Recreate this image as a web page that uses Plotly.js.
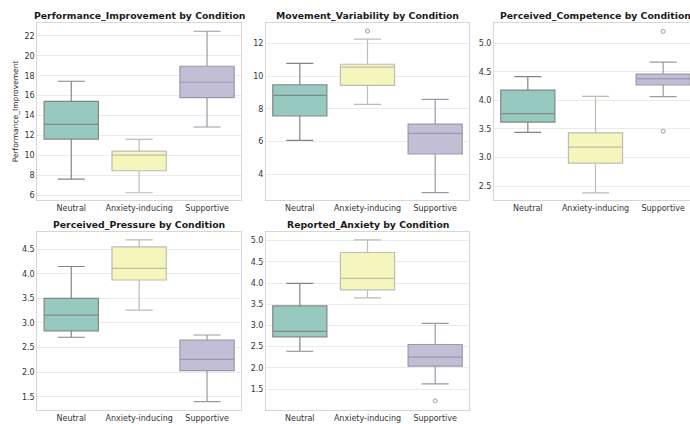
<!DOCTYPE html>
<html>
<head>
<meta charset="utf-8">
<script src="https://cdn.plot.ly/plotly-3.0.1.min.js"></script>
<style>
html,body{margin:0;padding:0;overflow:hidden;background:#fff;width:690px;height:424px;}
#chart{width:720px;height:424px;}
</style>
</head>
<body>
<div id="chart"></div>
<script>
const categories = ['Neutral', 'Anxiety-inducing', 'Supportive'];
const metricNames = ['Performance_Improvement', 'Movement_Variability', 'Perceived_Competence', 'Perceived_Pressure', 'Reported_Anxiety'];

// Performance_Improvement
const perfLow = [7.6, 6.23, 12.84];
const perfQ1 = [11.63, 8.44, 15.79];
const perfMed = [13.11, 10.02, 17.34];
const perfQ3 = [15.42, 10.42, 18.95];
const perfHigh = [17.44, 11.6, 22.47];
const perfOutX = [];
const perfOutY = [];

// Movement_Variability
const moveLow = [6.07, 8.27, 2.88];
const moveQ1 = [7.56, 9.43, 5.24];
const moveMed = [8.82, 10.55, 6.5];
const moveQ3 = [9.47, 10.72, 7.07];
const moveHigh = [10.78, 12.26, 8.58];
const moveOutX = ['Anxiety-inducing'];
const moveOutY = [12.75];

// Perceived_Competence
const compLow = [3.44, 2.38, 4.065];
const compQ1 = [3.62, 2.9, 4.27];
const compMed = [3.77, 3.18, 4.38];
const compQ3 = [4.18, 3.43, 4.46];
const compHigh = [4.416, 4.07, 4.67];
const compOutX = ['Supportive', 'Supportive'];
const compOutY = [5.21, 3.46];

// Perceived_Pressure
const presLow = [2.71, 3.26, 1.4];
const presQ1 = [2.84, 3.875, 2.03];
const presMed = [3.16, 4.11, 2.26];
const presQ3 = [3.5, 4.55, 2.65];
const presHigh = [4.15, 4.69, 2.755];
const presOutX = [];
const presOutY = [];

// Reported_Anxiety
const anxLow = [2.39, 3.65, 1.62];
const anxQ1 = [2.73, 3.84, 2.04];
const anxMed = [2.86, 4.11, 2.25];
const anxQ3 = [3.46, 4.72, 2.55];
const anxHigh = [3.99, 5.016, 3.05];
const anxOutX = ['Supportive'];
const anxOutY = [1.22];

const yTickStep = [2, 2, 0.5, 0.5, 0.5];
const yTickFmt = ['d', 'd', '.1f', '.1f', '.1f'];
const yRanges = [[5.5, 23.3], [2.43, 13.24], [2.255, 5.356], [1.229, 4.858], [1.005, 5.21]];

const fillColors = ['#96cac1', '#f5f5bc', '#c1bed6'];
const lineColors = ['#858585', '#bdbdb2', '#9b99a8'];

const W = 720, H = 424;
const xDomPx = [[37.3, 241], [266, 469], [494, 697], [37.3, 241], [266, 469]];
const yDomPx = [[23, 200], [23, 200], [23, 200], [231.7, 410], [231.7, 410]];

const stats = [
  [perfLow, perfQ1, perfMed, perfQ3, perfHigh, perfOutX, perfOutY],
  [moveLow, moveQ1, moveMed, moveQ3, moveHigh, moveOutX, moveOutY],
  [compLow, compQ1, compMed, compQ3, compHigh, compOutX, compOutY],
  [presLow, presQ1, presMed, presQ3, presHigh, presOutX, presOutY],
  [anxLow, anxQ1, anxMed, anxQ3, anxHigh, anxOutX, anxOutY]
];

const traces = [];
const layout = {
  width: W, height: H,
  margin: {l: 0, r: 0, t: 0, b: 0},
  paper_bgcolor: '#ffffff',
  plot_bgcolor: '#ffffff',
  showlegend: false,
  boxmode: 'overlay',
  font: {family: 'DejaVu Sans', color: '#262626', size: 8},
  annotations: []
};

stats.forEach((s, i) => {
  const xa = i === 0 ? 'x' : 'x' + (i + 1);
  const ya = i === 0 ? 'y' : 'y' + (i + 1);
  for (let c = 0; c < 3; c++) {
    traces.push({
      type: 'box',
      x: [categories[c]],
      lowerfence: [s[0][c]],
      q1: [s[1][c]],
      median: [s[2][c]],
      q3: [s[3][c]],
      upperfence: [s[4][c]],
      width: 0.8,
      whiskerwidth: 0.5,
      boxpoints: false,
      fillcolor: fillColors[c],
      line: {color: lineColors[c], width: 1.2},
      xaxis: xa, yaxis: ya,
      hoverinfo: 'skip'
    });
  }
  if (s[5].length) {
    traces.push({
      type: 'scatter', mode: 'markers',
      x: s[5], y: s[6],
      marker: {symbol: 'circle-open', size: 4, color: '#9a9a9a', line: {width: 1}},
      xaxis: xa, yaxis: ya, hoverinfo: 'skip'
    });
  }
  const xk = i === 0 ? 'xaxis' : 'xaxis' + (i + 1);
  const yk = i === 0 ? 'yaxis' : 'yaxis' + (i + 1);
  layout[xk] = {
    domain: [xDomPx[i][0] / W, xDomPx[i][1] / W],
    anchor: ya,
    type: 'category',
    categoryorder: 'array', categoryarray: categories,
    range: [-0.5, 2.5],
    showgrid: false,
    showline: true, linecolor: '#d6d6d6', linewidth: 1, mirror: true,
    ticks: '', tickfont: {size: 8, color: '#333333'},
    zeroline: false, fixedrange: true
  };
  layout[yk] = {
    domain: [1 - yDomPx[i][1] / H, 1 - yDomPx[i][0] / H],
    anchor: xa,
    range: yRanges[i],
    dtick: yTickStep[i], tick0: 0,
    tickformat: yTickFmt[i],
    showgrid: true, gridcolor: '#ebebeb', gridwidth: 1,
    showline: true, linecolor: '#d6d6d6', linewidth: 1, mirror: true,
    ticks: '', tickfont: {size: 8, color: '#333333'},
    zeroline: false, fixedrange: true
  };
  if (i === 0) {
    layout[yk].title = {text: metricNames[0], font: {size: 7.5, color: '#262626'}, standoff: 4};
  }
  layout.annotations.push({
    text: '<b>' + metricNames[i] + ' by Condition</b>',
    xref: 'paper', yref: 'paper',
    x: (xDomPx[i][0] + xDomPx[i][1]) / 2 / W,
    y: 1 - (yDomPx[i][0] - 7.5) / H,
    xanchor: 'center', yanchor: 'middle',
    showarrow: false,
    font: {size: 9.3, color: '#1a1a1a', family: 'DejaVu Sans'}
  });
});

Plotly.newPlot('chart', traces, layout, {displayModeBar: false, staticPlot: true});
</script>
</body>
</html>
